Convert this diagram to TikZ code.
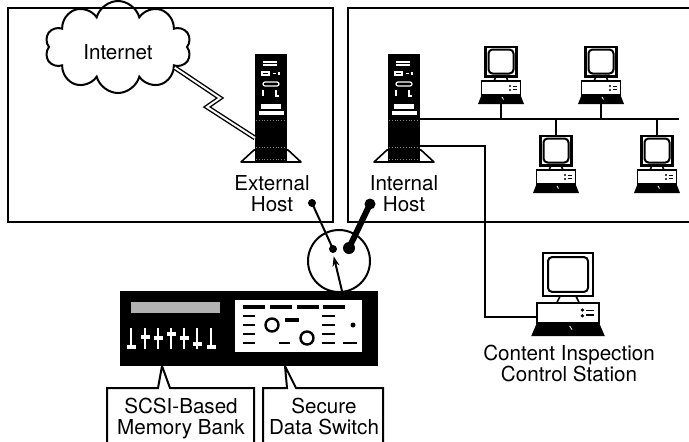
\documentclass[tikz,border=0pt]{standalone}
\usepackage{fontspec}
\setmainfont{TeX Gyre Heros}
\usetikzlibrary{arrows.meta,shapes.symbols,calc}

\begin{document}
\begin{tikzpicture}[x=0.5pt,y=-0.5pt,>={Stealth[length=5pt,width=3.5pt]},
  font=\fontsize{10.3}{10.5}\selectfont,
  frame/.style={line width=1.3pt},
  wire/.style={line width=1pt},
  lbl/.style={align=center,inner sep=0pt,anchor=north},
  dot/.style={circle,fill,inner sep=0pt,minimum size=#1},
  % tower server, origin at the top of the cabinet
  server/.pic={
    \filldraw[fill=white,line width=0.8pt,line join=round] (-30,108) -- (-17,96) -- (17,96) -- (30,108) -- cycle;
    \fill (-16,0) rectangle (16,108);
    \begin{scope}[white,line width=0.6pt]
      \draw (-8,8) -- (6,8) (-8,11) -- (6,11);
      \draw (-9,18) rectangle (-2,21) (2,19.5) -- (5,19.5) (8,18) -- (8,21);
      \draw[rounded corners=1pt] (-8,28) rectangle (8,32);
      \draw (-8,36) -- (-8,42) (5,36) -- (5,42) -- (8,42);
    \end{scope}
    \fill[white] (-10,50) rectangle (10,55);
    \fill[white] (-12,57) rectangle (13,61);
    \draw[gray,densely dotted,line width=0.4pt] (-15,66) -- (15,66) (-15,93) -- (15,93) (-15,105) -- (15,105);
    \coordinate (-wan) at (-16,84);
    \coordinate (-lan) at (16,65);
    \coordinate (-aux) at (16,92);
  },
  % desktop workstation, origin at the top of the monitor
  computer/.pic={
    \draw[line width=1.2pt,fill=white] (-15.5,0.7) rectangle (15.5,30.5);
    \draw[line width=1pt,rounded corners=2pt] (-12.5,3.5) rectangle (12.5,27.5);
    \draw[line width=0.8pt] (-5,30.5) -- (-7,35) (5,30.5) -- (7,35);
    \draw[line width=0.9pt,fill=white] (-19.5,35) rectangle (19.5,49);
    \fill (-23,58) -- (-19.5,49) -- (19.5,49) -- (23,58) -- cycle;
    \fill (9,40) circle (1.2) (9,44) circle (1.2);
    \draw[line width=0.6pt] (11.5,40.5) -- (16,40.5) (11.5,43.5) -- (16,43.5);
    \draw[white,line width=0.4pt] (1,51) -- (2.5,53.5);
    \coordinate (-top) at (0,0);
    \coordinate (-bot) at (0,58);
    \coordinate (-port) at (-19.5,45);
  }]
\useasboundingbox (0,0) rectangle (689,441);
\clip (0,0) rectangle (689,441);

% the two network zones
\draw[frame] (8,8) rectangle (333,222);
\draw[frame] (348,8) rectangle (700,222);

% outside world
\node (net) [cloud,draw,line width=1pt,cloud puffs=10,cloud ignores aspect,minimum width=73pt,minimum height=46pt,inner sep=0pt] at (118,47) {};
\node (nettxt) at (118,52) {Internet};
\pic (ext) at (271,54) {server};
\node (lext) [lbl] at (272,175) {External\\Host};
\draw[line width=0.7pt,double=white,double distance=1pt,line join=miter] (net.-20) -- (220,98) -- (207,107) -- (ext-wan);

% inside network
\pic (int) at (404,54) {server};
\node (lint) [lbl] at (404,175) {Internal\\Host};
\pic (pc1) at (501,46) {computer};
\pic (pc2) at (601,46) {computer};
\pic (pc3) at (556,135) {computer};
\pic (pc4) at (657,135) {computer};
\coordinate (busend) at (679,119);
\draw[wire] (int-lan) -- (busend);
\draw[wire] (pc1-bot) -- (pc1-bot |- busend);
\draw[wire] (pc2-bot) -- (pc2-bot |- busend);
\draw[wire] (pc3-top) -- (pc3-top |- busend);
\draw[wire] (pc4-top) -- (pc4-top |- busend);

% inspection station
\pic[xscale=1.6,yscale=1.45] (cis) at (568,252) {computer};
\node (lcis) [lbl] at (569,345) {Content Inspection\\Control Station};
\coordinate (turn) at (485,0);
\draw[wire] (int-aux) -| (turn |- cis-port) -- (cis-port);

% switch contacts
\node (sw) [circle,draw,line width=1pt,minimum size=31pt,inner sep=0pt] at (339,261) {};
\node (dext) [dot=4pt] at (312,203) {};
\node (dint) [dot=5.5pt] at (370,204) {};
\node (p1) [dot=4pt] at (333,249) {};
\node (p2) [dot=6pt] at (349,248) {};
\draw[wire] (dext.center) -- (p1.center);
\draw[line width=3pt] (dint.center) -- (p2.center);

% switch unit
\node (dev) [fill,inner sep=0pt,minimum width=129pt,minimum height=37.5pt] at (249,328.5) {};
\coordinate (feed) at (342,291);
\draw[wire,->,shorten >=1.5pt] (feed) -- (p1.south);
\fill[gray!60] (131,302) rectangle (220,313);
\foreach \x/\k in {131/347,145/337,158/338,171/334,184/338,197/344,211/347}{
  \draw[white,line width=1pt] (\x,328) -- (\x,349);
  \fill[white] (\x-4.5,\k-1.8) rectangle (\x+4.5,\k+1.8);
}
\fill[white] (235,300) rectangle (362,352);
\foreach \x in {243,270,297,323}
  \draw[line width=2pt] (\x,307) -- ++(22,0);
\foreach \y in {316,325,334,343}
  \draw[line width=1.2pt] (243,\y) -- (255,\y) (322,\y) -- (335,\y);
\draw[line width=1.2pt] (272,325) circle (6.5) (307,338) circle (6.5);
\draw[line width=2pt] (285,320) -- (299,320);
\draw[line width=1.2pt] (279,343) -- (290,343) (343,343) -- (357,343);
\fill (353,325) circle (2.5);

% callouts
\draw[wire] (107,460) |- (158,388) -- (162,366) -- (170,388) -| (254,460);
\node (scsi) [lbl] at (181,398) {SCSI-Based\\Memory Bank};
\draw[wire] (263,460) |- (287,388) -- (285,366) -- (296,388) -| (383,460);
\node (sds) [lbl] at (324,398) {Secure\\Data Switch};
\end{tikzpicture}
\end{document}
